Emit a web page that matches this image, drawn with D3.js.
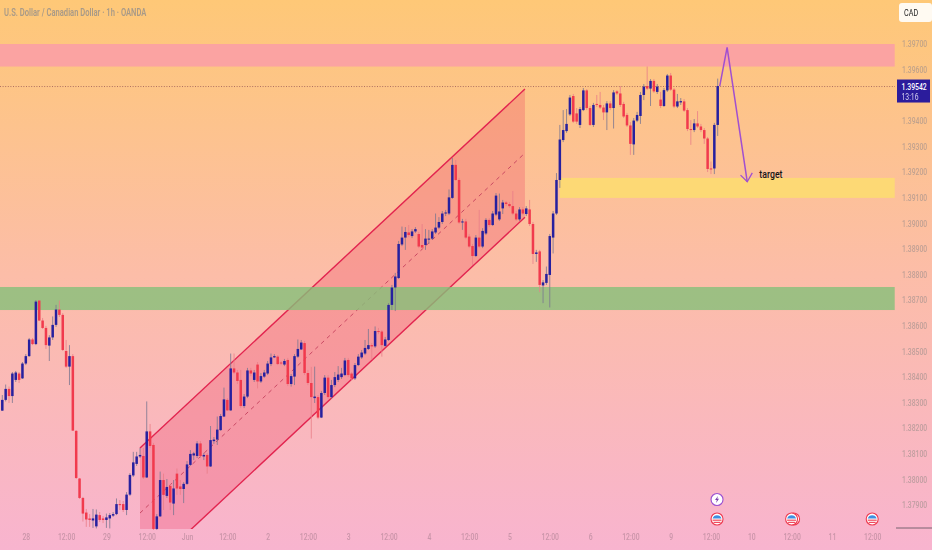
<!DOCTYPE html>
<html>
<head>
<meta charset="utf-8">
<script src="https://cdn.jsdelivr.net/npm/d3@7/dist/d3.min.js"></script>
<style>
html,body{margin:0;padding:0;background:#fbbfa0;overflow:hidden}
svg{display:block}
</style>
</head>
<body>
<svg id="chart" width="932" height="550"></svg>
<script>
// Prices are in units of 0.00001 CAD
const opens = [138274,138316,138359,138331,138394,138419,138400,138458,138487,138552,
138534,138704,138626,138597,138528,138560,138609,138669,138648,138507,
138446,138487,138195,138009,137933,137876,137853,137845,137822,137866,
137853,137847,137853,137864,137870,137909,137909,137886,137946,138021,
138066,138095,138097,138013,138193,138140,137812,137861,138003,137941,
137980,137911,138028,137978,137968,137988,138062,138099,138097,138146,
138095,138101,138056,138155,138161,138198,138251,138316,138275,138439,
138423,138394,138292,138329,138431,138394,138454,138388,138407,138419,
138456,138482,138485,138462,138454,138472,138378,138407,138485,138513,
138538,138421,138382,138323,138327,138247,138343,138403,138327,138374,
138394,138405,138413,138472,138419,138400,138452,138482,138497,138515,
138530,138525,138585,138583,138527,138550,138687,138755,138792,138923,
138950,138970,138956,138974,138964,138921,138921,138943,138946,138970,
138989,139011,139044,139044,139105,139234,139175,139009,139013,138954,
138917,138878,138950,138915,138966,139019,138999,139040,139021,139064,
139087,139081,139073,139044,139021,139060,139042,139060,139003,138886,
138896,138763,138773,138804,138950,139044,139175,139331,139366,139431,
139503,139435,139390,139448,139525,139456,139390,139472,139468,139458,
139439,139474,139456,139521,139513,139472,139429,139388,139314,139407,
139425,139507,139542,139532,139562,139519,139489,139464,139525,139583,
139528,139462,139478,139482,139448,139374,139370,139396,139384,139370,
139337,139220,139220,139390];
const highs = [138335,138376,138368,138425,138429,138425,138464,138495,138558,138558,
138706,138706,138636,138605,138569,138642,138687,138704,138655,138550,
138530,138495,138198,138011,137937,137890,137870,137890,137888,137878,
137862,137872,137874,137878,137931,137925,137921,137956,138030,138113,
138113,138128,138128,138310,138222,138148,137870,138036,138028,138007,
137988,138003,138048,138003,137995,138077,138120,138113,138155,138155,
138109,138109,138214,138171,138251,138261,138364,138323,138497,138497,
138433,138433,138339,138441,138441,138433,138464,138421,138433,138468,
138497,138495,138491,138468,138476,138480,138417,138495,138552,138550,
138546,138433,138445,138446,138335,138351,138413,138413,138394,138425,
138448,138441,138480,138480,138425,138460,138495,138511,138550,138593,
138538,138603,138597,138589,138562,138694,138765,138812,138937,138993,
138991,138999,138983,138991,138972,139003,138983,138980,138983,139044,
139030,139054,139058,139138,139261,139253,139183,139023,139023,138964,
138925,138960,139058,138987,139026,139026,139054,139124,139122,139097,
139093,139089,139132,139054,139069,139069,139073,139097,139011,138902,
138902,138784,138837,138964,139054,139202,139390,139448,139452,139507,
139511,139456,139460,139534,139530,139464,139476,139507,139519,139468,
139483,139483,139526,139526,139542,139480,139437,139401,139417,139441,
139519,139550,139618,139569,139569,139550,139519,139534,139589,139593,
139534,139511,139495,139491,139456,139409,139413,139444,139394,139378,
139343,139247,139398,139571];
const lows = [138273,138310,138304,138304,138386,138382,138398,138452,138484,138530,
138530,138624,138593,138515,138468,138550,138601,138640,138507,138441,
138374,138195,138007,137929,137841,137820,137820,137816,137814,137839,
137835,137816,137814,137859,137866,137886,137878,137866,137941,138015,
138058,138089,138007,138011,138128,137808,137808,137859,137886,137933,
137886,137866,137945,137945,137913,137984,138058,138081,138089,138089,
138081,138028,138054,138144,138140,138195,138249,138273,138273,138417,
138378,138284,138284,138323,138409,138386,138361,138382,138402,138413,
138448,138480,138452,138452,138448,138370,138368,138374,138480,138511,
138413,138374,138165,138304,138241,138245,138335,138320,138320,138366,
138386,138398,138409,138405,138394,138394,138448,138476,138491,138511,
138472,138519,138573,138485,138523,138546,138667,138663,138788,138917,
138902,138952,138948,138968,138909,138905,138902,138925,138941,138964,
138983,139003,139034,139038,139101,139171,139003,138980,138944,138909,
138843,138874,138909,138909,138960,138991,138995,139034,139015,139042,
139073,139066,139038,139015,139015,139038,139034,138995,138847,138855,
138737,138694,138765,138677,138888,139038,139144,139323,139359,139425,
139398,139394,139378,139444,139448,139386,139382,139460,139452,139409,
139370,139448,139376,139507,139460,139417,139382,139273,139273,139401,
139394,139487,139526,139464,139515,139511,139456,139460,139519,139523,
139456,139456,139468,139441,139366,139312,139362,139378,139362,139316,
139206,139198,139198,139347];
const closes = [138316,138359,138331,138419,138423,138394,138458,138487,138552,138534,
138700,138626,138597,138530,138560,138609,138669,138648,138511,138446,
138487,138196,138011,137933,137872,137849,137847,137853,137868,137847,
137847,137857,137866,137870,137909,137905,137886,137946,138023,138072,
138095,138101,138013,138193,138136,137812,137861,138003,137945,137976,
137915,137970,137970,137968,137988,138064,138105,138107,138146,138097,
138101,138056,138159,138161,138200,138253,138318,138275,138439,138423,
138390,138292,138329,138431,138419,138423,138388,138409,138423,138458,
138482,138487,138456,138458,138468,138378,138409,138487,138515,138540,
138421,138382,138327,138329,138247,138343,138403,138327,138374,138405,
138415,138419,138470,138413,138400,138452,138485,138501,138519,138530,
138525,138585,138581,138530,138552,138687,138755,138798,138925,138950,
138972,138960,138974,138983,138915,138911,138946,138946,138974,138989,
139011,139044,139048,139107,139234,139175,139009,139013,138950,138915,
138878,138950,138915,138976,139019,138999,139044,139114,139052,139087,
139081,139073,139044,139021,139060,139044,139064,139003,138886,138892,
138765,138775,138808,138956,139044,139175,139333,139370,139394,139497,
139403,139403,139452,139525,139456,139390,139468,139468,139458,139439,
139474,139456,139517,139513,139468,139423,139388,139316,139407,139429,
139507,139540,139532,139562,139521,139540,139464,139526,139583,139528,
139462,139482,139483,139446,139374,139370,139396,139384,139370,139337,
139218,139216,139390,139542];

const priceTicks = [139700,139600,139400,139300,139200,139100,139000,138900,138800,
138700,138600,138500,138400,138300,138200,138100,138000,137900];
const timeLabels = ["28","12:00","29","12:00","Jun","12:00","2","12:00","3","12:00","4","12:00",
"5","12:00","6","12:00","9","12:00","10","12:00","11","12:00"];
const firstTimeBar = 7, barsPerLabel = 12;

const lastPrice = 139542;
const lastPriceLabel = "1.39542", countdownLabel = "13:16";
const titleText = "U.S. Dollar / Canadian Dollar · 1h · OANDA";

// Horizontal zones: [first bar, last bar], [top price, bottom price]
const zoneBars = [[-0.7,265.7],[-0.7,265.7],[166,265.7]];
const zoneTop = [139706,138757,139183];
const zoneBottom = [139618,138667,139105];
const zoneFill = ["#fba3a2","rgb(133,191,121)","#fdd975"];
const zoneAlpha = [1,0.8,1];

// Parallel channel anchors
const channelBars = [41,155.6];
const channelUpper = [138128,139530];
const channelMiddle = [137874,139280];
const channelLower = [137624,139029];
const channelFloor = 137812;

// Projected move
const arrowBars = [213.6,215.8,221.8];
const arrowPrices = [139542,139693,139168];
const arrowHeadBars = [219.8,221.8,223.3];
const arrowHeadPrices = [139194,139168,139203];

const targetBar = 225.4, targetPrice = 139183;
const eventBars = [235,259];
const nowEventBar = 212.8;

const W = 932, H = 550, plotRight = 895;
const font = "Roboto, sans-serif";
const squeeze = 0.76; // the screenshot's text is horizontally condensed
const x = d3.scaleLinear().domain([0,213]).range([2.3,717.7]);
const y = d3.scaleLinear().domain([137729.7,139878]).range([550,0]);

const svg = d3.select("#chart");
const defs = svg.append("defs");
const grad = defs.append("linearGradient").attr("id","bg").attr("x1",0).attr("y1",0).attr("x2",0).attr("y2",1);
grad.append("stop").attr("offset","0%").attr("stop-color","#fec877");
grad.append("stop").attr("offset","50%").attr("stop-color","#fcbda8");
grad.append("stop").attr("offset","100%").attr("stop-color","#f8b4cf");
svg.append("rect").attr("width",W).attr("height",H).attr("fill","url(#bg)");

defs.append("clipPath").attr("id","floor").append("rect")
  .attr("x",0).attr("y",0).attr("width",W).attr("height",y(channelFloor));

// Channel
const channel = svg.append("g").attr("clip-path","url(#floor)");
const chPts = [
  [channelBars[0],channelUpper[0]],[channelBars[1],channelUpper[1]],
  [channelBars[1],channelLower[1]],[channelBars[0],channelLower[0]]
];
channel.append("path")
  .attr("d",d3.line().x(d=>x(d[0])).y(d=>y(d[1]))(chPts)+"Z")
  .attr("fill","rgb(235,50,90)").attr("fill-opacity",0.25);
[channelUpper,channelLower].forEach(s=>{
  channel.append("line")
    .attr("x1",x(channelBars[0])).attr("x2",x(channelBars[1]))
    .attr("y1",y(s[0])).attr("y2",y(s[1]))
    .attr("stroke","#e2244f").attr("stroke-width",1.4);
});
channel.append("line")
  .attr("x1",x(channelBars[0])).attr("x2",x(channelBars[1]))
  .attr("y1",y(channelMiddle[0])).attr("y2",y(channelMiddle[1]))
  .attr("stroke","#c4405c").attr("stroke-width",0.9).attr("stroke-dasharray","4 4");

// Zones
svg.append("g").selectAll("rect").data(zoneTop).join("rect")
  .attr("x",(d,i)=>Math.max(0,x(zoneBars[i][0])))
  .attr("width",(d,i)=>x(zoneBars[i][1])-Math.max(0,x(zoneBars[i][0])))
  .attr("y",d=>y(d))
  .attr("height",(d,i)=>y(zoneBottom[i])-y(d))
  .attr("fill",(d,i)=>zoneFill[i])
  .attr("fill-opacity",(d,i)=>zoneAlpha[i]);

// Last price line
svg.append("line").attr("x1",0).attr("x2",plotRight)
  .attr("y1",y(lastPrice)+0.5).attr("y2",y(lastPrice)+0.5)
  .attr("stroke","#9a5a55").attr("stroke-width",0.8).attr("stroke-dasharray","1 1.6");

// Candles
const candles = svg.append("g").selectAll("g").data(opens).join("g");
const isUp = i => closes[i] >= opens[i];
candles.append("line")
  .attr("x1",(d,i)=>x(i)).attr("x2",(d,i)=>x(i))
  .attr("y1",(d,i)=>y(highs[i])).attr("y2",(d,i)=>y(lows[i]))
  .attr("stroke",(d,i)=>isUp(i)?"#7a7690":"#ea7d88").attr("stroke-width",0.8);
candles.append("rect")
  .attr("x",(d,i)=>x(i)-1.25).attr("width",2.5)
  .attr("y",(d,i)=>y(Math.max(opens[i],closes[i])))
  .attr("height",(d,i)=>Math.max(1,Math.abs(y(opens[i])-y(closes[i]))))
  .attr("fill",(d,i)=>isUp(i)?"#26209f":"#f13a4d");

// Projected arrow
const arrowLine = d3.line().x((d)=>x(d[0])).y(d=>y(d[1]));
svg.append("path").attr("d",arrowLine(arrowBars.map((b,i)=>[b,arrowPrices[i]])))
  .attr("fill","none").attr("stroke","#a14fd0").attr("stroke-width",1.5);
svg.append("path").attr("d",arrowLine(arrowHeadBars.map((b,i)=>[b,arrowHeadPrices[i]])))
  .attr("fill","none").attr("stroke","#a14fd0").attr("stroke-width",1.3);

// Text placed at (px,py) and condensed horizontally
function label(parent, px, py, size, weight, fill, str){
  return parent.append("text")
    .attr("transform",`translate(${px},${py}) scale(${squeeze},1)`)
    .attr("font-family",font).attr("font-size",size).attr("font-weight",weight)
    .attr("fill",fill).text(str);
}

label(svg, x(targetBar), y(targetPrice), 11.5, 500, "#151515", "target");

// Axes
const faint = svg.append("g").style("filter","blur(0.5px)");
const yAxis = faint.append("g").attr("transform",`translate(900.5,-1.5)`)
  .call(d3.axisRight(y).tickValues(priceTicks).tickSize(0).tickPadding(2)
    .tickFormat(v=>(v/100000).toFixed(5)));
yAxis.select(".domain").remove();
yAxis.selectAll("text").attr("transform",`scale(${squeeze},1)`)
  .attr("font-family",font).attr("font-size",9)
  .attr("fill","#a0908e").attr("fill-opacity",0.65).attr("font-weight",500);

const xAxis = faint.append("g").attr("transform","translate(0,531)")
  .call(d3.axisBottom(x).tickValues(timeLabels.map((d,i)=>firstTimeBar+i*barsPerLabel))
    .tickSize(0).tickPadding(3).tickFormat((d,i)=>timeLabels[i]));
xAxis.select(".domain").remove();
xAxis.selectAll("text").attr("transform",`scale(${squeeze},1)`)
  .attr("font-family",font).attr("font-size",9)
  .attr("fill","#b98a9c").attr("fill-opacity",0.75).attr("font-weight",500);

label(faint, 4, 15.5, 10, 600, "#a89a88", titleText);

// Last price label
svg.append("rect").attr("x",897).attr("y",y(lastPrice)-6.5).attr("width",33).attr("height",23)
  .attr("fill","#2b1c9c");
label(svg, 901.5, y(lastPrice)+4, 9, 500, "#ffffff", lastPriceLabel);
label(svg, 901.5, y(lastPrice)+14, 9, 400, "#d9d5f2", countdownLabel);

// Currency tag
svg.append("rect").attr("x",899).attr("y",3).attr("width",33).attr("height",19).attr("rx",3)
  .attr("fill","#fffaf2");
label(svg, 904, 16, 9.5, 400, "#222", "CAD");

// Bottom right marker
svg.append("line").attr("x1",896).attr("x2",932).attr("y1",528).attr("y2",528)
  .attr("stroke","#6a5a64").attr("stroke-width",0.9);

// Event icons
function flag(cx, cy){
  const g = svg.append("g").attr("transform",`translate(${cx},${cy})`);
  g.append("circle").attr("r",6).attr("fill","#fff").attr("stroke","#ee3a50").attr("stroke-width",1.1);
  g.append("path").attr("d","M-4.5,-0.5 A4.7,4.7 0 0 1 4.5,-0.5 Z").attr("fill","#3f8fe0");
  g.append("rect").attr("x",-4.5).attr("y",0.6).attr("width",9).attr("height",1.2).attr("fill","#ef4b5e");
  g.append("rect").attr("x",-3.5).attr("y",2.8).attr("width",7).attr("height",1.2).attr("fill","#ef4b5e");
}
const bolt = svg.append("g").attr("transform",`translate(${x(nowEventBar)},499.5)`);
bolt.append("circle").attr("r",6).attr("fill","#fff").attr("stroke","#9a4fd0").attr("stroke-width",1.1);
bolt.append("path").attr("d","M1,-3.6 L-2,0.6 L-0.2,0.6 L-1,3.6 L2,-0.8 L0.2,-0.8 Z").attr("fill","#7a3fb0");
flag(x(nowEventBar),519);
svg.append("circle").attr("cx",x(eventBars[0])+2).attr("cy",519).attr("r",6)
  .attr("fill","#fff").attr("stroke","#ee3a50").attr("stroke-width",1.1);
flag(x(eventBars[0]),519);
flag(x(eventBars[1]),519);
</script>
</body>
</html>
